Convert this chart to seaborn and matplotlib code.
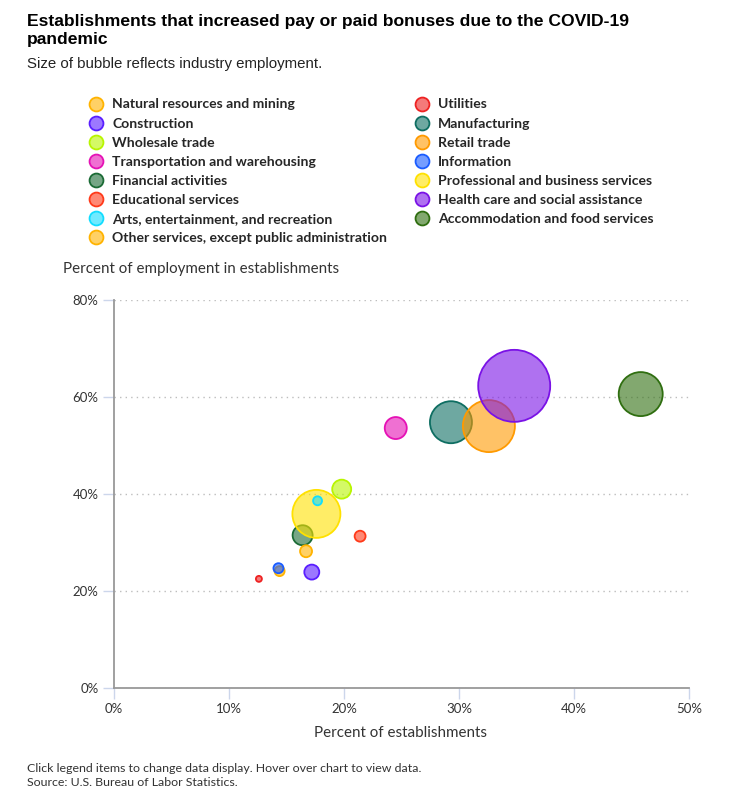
import pandas as pd
import matplotlib.pyplot as plt
import seaborn as sns
from matplotlib.lines import Line2D
from matplotlib.colors import to_rgba
from matplotlib.ticker import FuncFormatter

# values
industries = [
    "Natural resources and mining", "Utilities", "Construction", "Manufacturing",
    "Wholesale trade", "Retail trade", "Transportation and warehousing", "Information",
    "Financial activities", "Professional and business services", "Educational services",
    "Health care and social assistance", "Arts, entertainment, and recreation",
    "Accommodation and food services", "Other services, except public administration",
]
pct_establishments = [14.4, 12.6, 17.2, 29.3, 19.8, 32.6, 24.5, 14.3, 16.4, 17.6, 21.4, 34.8, 17.7, 45.8, 16.7]
pct_employment = [24.1, 22.5, 23.9, 54.8, 41.0, 54.0, 53.6, 24.7, 31.5, 35.9, 31.3, 62.3, 38.6, 60.6, 28.2]
# relative industry employment (bubble area)
employment = [25, 9, 56, 441, 90, 676, 121, 25, 100, 576, 30, 1296, 20, 484, 36]
edge_colors = [
    "#FFB300", "#EE2222", "#5A1EFF", "#0E6E62", "#B8F500", "#FF9A00", "#E511B5", "#1A5CFF",
    "#1B6B35", "#FFE100", "#FF3A1A", "#7A12E6", "#12DDFF", "#2F6E10", "#FFB300",
]

df = pd.DataFrame({
    "industry": industries,
    "establishments": pct_establishments,
    "employment_pct": pct_employment,
    "employment": employment,
})
fill = {ind: to_rgba(c, 0.6) for ind, c in zip(industries, edge_colors)}

sns.set_style("white")
plt.rcParams['font.family'] = ['Lato', 'DejaVu Sans']

fig = plt.figure(figsize=(7.41, 8.11), dpi=100)
ax = fig.add_axes([114 / 741, 123 / 811, 575 / 741, 388 / 811])

# bubble area proportional to employment; 1296 units -> 72 px diameter
smax = (72 * 0.72) ** 2
sns.scatterplot(data=df, x="establishments", y="employment_pct", hue="industry",
                palette=fill, size="employment", sizes=(0, smax),
                size_norm=(0, max(employment)), edgecolor=edge_colors,
                linewidth=1.3, legend=False, ax=ax, zorder=3)

ax.set_xlim(0, 50)
ax.set_ylim(0, 80)
ax.set_xticks([0, 10, 20, 30, 40, 50])
ax.set_yticks([0, 20, 40, 60, 80])
pct = FuncFormatter(lambda v, p: f"{v:.0f}%")
ax.xaxis.set_major_formatter(pct)
ax.yaxis.set_major_formatter(pct)
ax.set_xlabel("")
ax.set_ylabel("")
ax.yaxis.grid(True, linestyle=(0, (1, 3)), color="#bdbdbd", linewidth=1)
ax.xaxis.grid(False)
for side in ["top", "right"]:
    ax.spines[side].set_visible(False)
for side in ["left", "bottom"]:
    ax.spines[side].set_color("#999999")
    ax.spines[side].set_linewidth(1.3)
ax.tick_params(axis="both", which="both", color="#ccd6eb", length=8, width=1,
               labelsize=9.5, labelcolor="#333333", pad=3)
ax.tick_params(axis="x", bottom=True)
ax.tick_params(axis="y", left=True)

# titles
fig.text(27 / 741, 1 - 14 / 811, "Establishments that increased pay or paid bonuses due to the COVID-19\npandemic",
         fontsize=12.6, fontweight="bold", family="Liberation Sans", va="top", ha="left",
         linespacing=1.22, color="#000000")
fig.text(27 / 741, 1 - 64 / 811, "Size of bubble reflects industry employment.",
         fontsize=10.8, family="Liberation Sans", va="center", ha="left", color="#222222")

# legend: left column first eight, right column the rest
left_col = [0, 2, 4, 6, 8, 10, 12, 14]
right_col = [1, 3, 5, 7, 9, 11, 13]
handles = []
labels = []
for i in left_col + right_col:
    handles.append(Line2D([], [], linestyle="none", marker="o", markersize=10,
                          markerfacecolor=fill[industries[i]], markeredgecolor=edge_colors[i],
                          markeredgewidth=1.3))
    labels.append(industries[i])
fig.legend(handles, labels, ncol=2, loc="upper left",
           bbox_to_anchor=(89 / 741, 1 - 98.5 / 811), frameon=False,
           prop={"family": "Lato", "weight": "bold", "size": 10.1},
           handlelength=1.0, handletextpad=0.65, columnspacing=1.95,
           labelspacing=0.5, borderaxespad=0, borderpad=0)

fig.text(63 / 741, 1 - 269 / 811, "Percent of employment in establishments",
         fontsize=10.9, va="center", ha="left", color="#333333")
fig.text(401 / 741, 1 - 733 / 811, "Percent of establishments",
         fontsize=10.9, va="center", ha="center", color="#333333")

fig.text(27 / 741, 1 - 768 / 811, "Click legend items to change data display. Hover over chart to view data.",
         fontsize=8.9, va="center", ha="left", color="#333333")
fig.text(27 / 741, 1 - 783 / 811, "Source: U.S. Bureau of Labor Statistics.",
         fontsize=8.9, va="center", ha="left", color="#333333")

fig.savefig("out.png", dpi=100)
